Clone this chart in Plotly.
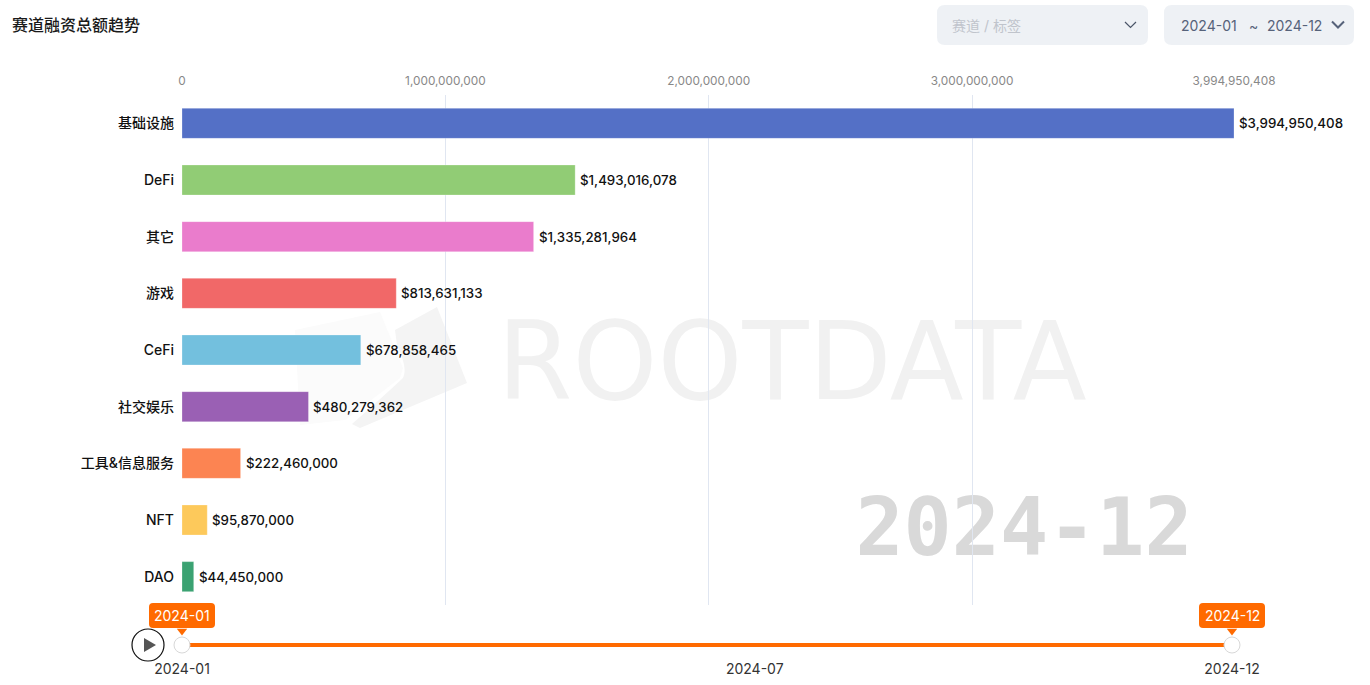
import plotly.graph_objects as go

# 2024-01 ~ 2024-12 cumulative funding per track
categories = ['基础设施', 'DeFi', '其它', '游戏', 'CeFi', '社交娱乐', '工具&信息服务', 'NFT', 'DAO']
values = [3994950408, 1493016078, 1335281964, 813631133, 678858465, 480279362, 222460000, 95870000, 44450000]
bar_colors = ['#5470c6', '#91cc75', '#ea7ccc', '#f16868', '#73c0de', '#9a60b4', '#fc8452', '#fdc95b', '#3ba272']
x_ticks = [0, 1000000000, 2000000000, 3000000000, 3994950408]
months = ['2024-01', '2024-02', '2024-03', '2024-04', '2024-05', '2024-06', '2024-07',
          '2024-08', '2024-09', '2024-10', '2024-11', '2024-12']
month_ticks = ['2024-01', '2024-07', '2024-12']

W, H = 1370, 685
FONT = 'Inter, "Noto Sans CJK SC", sans-serif'
ORANGE = '#ff6a00'


# rounded box path in figure pixels
def round_box(x0, y0, x1, y1, r):
    return (f'M {x0 + r} {y0} L {x1 - r} {y0} Q {x1} {y0} {x1} {y0 + r} '
            f'L {x1} {y1 - r} Q {x1} {y1} {x1 - r} {y1} '
            f'L {x0 + r} {y1} Q {x0} {y1} {x0} {y1 - r} '
            f'L {x0} {y0 + r} Q {x0} {y0} {x0 + r} {y0} Z')


def poly(points):
    return 'M ' + ' L '.join(f'{x} {y}' for x, y in points)


fig = go.Figure()

# base axes run in figure pixels, the watermark sits on them under everything else
fig.add_trace(go.Scatter(
    x=[792], y=[372], mode='text', text=['ROOTDATA'], cliponaxis=False, hoverinfo='skip',
    textfont=dict(size=108, color='#f1f1f1', family='DejaVu Sans'),
    xaxis='x', yaxis='y',
))
fig.add_trace(go.Scatter(
    x=[1024], y=[535], mode='text', text=['2024-12'], cliponaxis=False, hoverinfo='skip',
    textfont=dict(size=80, color='#d9d9d9', family='DejaVu Sans Mono', weight=700),
    xaxis='x', yaxis='y',
))

fig.add_trace(go.Bar(
    x=values, y=categories, orientation='h',
    marker=dict(color=bar_colors, line=dict(color='rgba(255,255,255,0.25)', width=1)),
    hoverinfo='skip', xaxis='x2', yaxis='y2',
))

# timeline at the bottom
fig.add_trace(go.Scatter(
    x=months, y=[0] * len(months), mode='lines', line=dict(color=ORANGE, width=4),
    cliponaxis=False, hoverinfo='skip', xaxis='x3', yaxis='y3',
))
fig.add_trace(go.Scatter(
    x=[months[0], months[-1]], y=[0, 0], mode='markers',
    marker=dict(size=16, color='white', line=dict(color='#d8d8d8', width=1)),
    cliponaxis=False, hoverinfo='skip', xaxis='x3', yaxis='y3',
))
fig.add_trace(go.Scatter(
    x=[months[0], months[-1]], y=[14, 14], mode='markers',
    marker=dict(size=9, symbol='triangle-down', color=ORANGE, line_width=0),
    cliponaxis=False, hoverinfo='skip', xaxis='x3', yaxis='y3',
))

shapes = [
    # select boxes
    dict(type='path', path=round_box(937, 5, 1148, 45, 8), fillcolor='#eef1f5', line_width=0),
    dict(type='path', path=round_box(1164, 5, 1354, 45, 8), fillcolor='#eef1f5', line_width=0),
    dict(type='path', path=poly([(1125, 22), (1130.5, 27.5), (1136, 22)]), line=dict(color='#4a5568', width=1.2)),
    dict(type='path', path=poly([(1332, 21.5), (1338, 27.5), (1344, 21.5)]), line=dict(color='#56627a', width=2)),
    # slider tooltips
    dict(type='path', path=round_box(149, 603, 215, 628, 4), fillcolor=ORANGE, line_width=0),
    dict(type='path', path=round_box(1199, 603, 1265, 628, 4), fillcolor=ORANGE, line_width=0),
    # play button
    dict(type='circle', x0=132, x1=164, y0=629, y1=661,
         line=dict(color='#111111', width=1.2), fillcolor='white'),
    dict(type='path', path=poly([(144, 638), (144, 652), (156, 645)]) + ' Z', fillcolor='#555555', line_width=0),
    # watermark logo
    dict(type='path', path=poly([(380, 312), (403, 368), (400, 378), (345, 420), (300, 425), (295, 330)]) + ' Z',
         fillcolor='#fbfbfb', line_width=0, layer='below'),
    dict(type='path', path='M 437 307 L 467 383 L 360 428 L 352 424 Q 385 395 403 378 Q 408 368 397 345 L 395 330 Z',
         fillcolor='#f4f4f4', line_width=0, layer='below'),
]
for s in shapes:
    s.update(xref='x', yref='y')

annotations = [
    dict(x=10, y=25, text='赛道融资总额趋势', xanchor='left', font=dict(size=16, color='#1a1a1a', weight=500)),
    dict(x=950, y=25, text='赛道 / 标签', xanchor='left', font=dict(size=14, color='#c0c4cc')),
    dict(x=1179, y=25, text='2024-01', xanchor='left', font=dict(size=14, color='#56627a')),
    dict(x=1253, y=25, text='~', font=dict(size=14, color='#56627a')),
    dict(x=1265, y=25, text='2024-12', xanchor='left', font=dict(size=14, color='#56627a')),
    dict(x=182, y=615.5, text='2024-01', font=dict(size=14, color='white')),
    dict(x=1232, y=615.5, text='2024-12', font=dict(size=14, color='white')),
]
for a in annotations:
    a.update(xref='x', yref='y', showarrow=False)

# value labels next to the bars
for cat, val in zip(categories, values):
    annotations.append(dict(
        x=val, y=cat, xref='x2', yref='y2', text=f'${val:,}', showarrow=False,
        xanchor='left', xshift=3, font=dict(size=13.3, color='#111111', weight=500),
    ))

fig.update_layout(
    width=W, height=H, margin=dict(l=0, r=0, t=0, b=0, autoexpand=False), autosize=False,
    paper_bgcolor='white', plot_bgcolor='rgba(0,0,0,0)', showlegend=False,
    font=dict(family=FONT),
    bargap=0.47,
    xaxis=dict(domain=[0, 1], range=[0, W], visible=False, anchor='y'),
    yaxis=dict(domain=[0, 1], range=[H, 0], visible=False, anchor='x'),
    xaxis2=dict(
        domain=[182 / W, 1234 / W], range=[0, 3994950408], side='top', anchor='y2',
        tickvals=x_ticks, tickformat=',d', ticklabelstandoff=7, ticks='',
        tickfont=dict(size=11.8, color='#888888'),
        showgrid=True, gridcolor='#e0e6f1', gridwidth=1, zeroline=False, showline=False,
    ),
    yaxis2=dict(
        domain=[1 - 605 / H, 1 - 95 / H], anchor='x2', autorange='reversed', type='category',
        categoryorder='array', categoryarray=categories,
        ticklabelstandoff=7, ticks='', showgrid=False, zeroline=False, showline=False,
        tickfont=dict(size=14, color='#111111', weight=500),
    ),
    xaxis3=dict(
        domain=[182 / W, 1232 / W], range=[0, 11], type='category', categoryorder='array',
        categoryarray=months, anchor='y3', tickvals=month_ticks, ticks='', ticklabelstandoff=4,
        tickfont=dict(size=14, color='#333333'), showgrid=False, zeroline=False, showline=False,
    ),
    yaxis3=dict(domain=[1 - 655 / H, 1 - 610 / H], range=[-10, 35], anchor='x3', visible=False),
    shapes=shapes, annotations=annotations,
)

fig.write_html('out.html', config=dict(displayModeBar=False),
               post_script="document.body.style.margin='0';")
